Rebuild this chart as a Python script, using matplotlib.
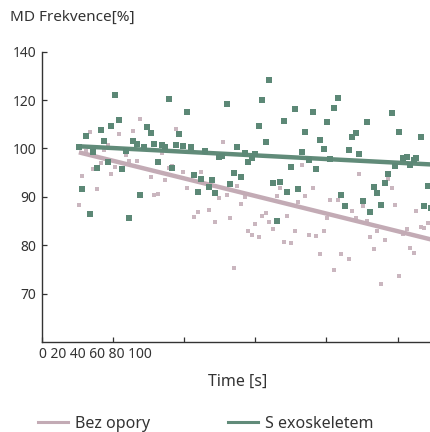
import numpy as np
import matplotlib
matplotlib.use("Agg")
import matplotlib.pyplot as plt
from matplotlib.lines import Line2D

plt.rcParams['font.family'] = ['Noto Sans', 'DejaVu Sans']

# ---------------- data ----------------
green_time = [10.5, 11.5, 12.5, 13.5, 14.5, 15.6, 16.6, 17.6, 18.6, 19.6,
              20.6, 21.7, 22.6, 23.7, 24.7, 25.7, 26.7, 27.7, 28.8, 29.6,
              30.7, 31.7, 32.7, 33.7, 34.8, 35.8, 36.7, 37.8, 38.7, 39.8,
              40.8, 41.9, 42.8, 43.9, 44.9, 45.8, 46.9, 47.8, 48.8, 49.9,
              50.6, 52.0, 52.9, 54.0, 54.9, 55.9, 57.1, 58.0, 59.0, 59.9,
              61.0, 62.0, 63.0, 63.9, 65.0, 66.0, 67.0, 68.1, 69.0, 70.0,
              71.2, 72.1, 73.1, 74.1, 75.0, 76.1, 77.1, 78.2, 79.2, 80.1,
              81.1, 82.2, 83.2, 84.2, 85.2, 86.2, 87.2, 88.2, 89.2, 90.2,
              91.3, 92.2, 93.3, 94.3, 95.2, 96.3, 97.3, 98.4, 99.3, 100.4,
              101.4, 102.5, 103.4, 104.5, 105.2, 106.4, 107.4, 108.4, 109.3]
green_md = [100.5, 91.6, 105.1, 86.5, 99.2, 96.0, 107.6, 103.1, 97.3, 109.2,
            122.3, 111.9, 95.8, 99.4, 85.6, 103.0, 101.7, 90.4, 100.4, 108.8,
            106.2, 101.7, 97.3, 101.4, 100.8, 120.4, 95.9, 101.5, 106.1, 101.1,
            115.2, 100.8, 94.6, 91.0, 93.6, 99.5, 92.0, 93.5, 90.8, 98.3,
            98.5, 118.2, 92.6, 95.0, 100.8, 94.1, 99.0, 97.1, 98.1, 98.8,
            109.2, 120.0, 102.7, 128.3, 92.8, 85.0, 93.0, 111.4, 91.1, 96.2,
            116.4, 91.7, 99.2, 106.9, 97.7, 115.2, 95.8, 103.4, 99.8, 110.9,
            97.9, 116.9, 120.7, 90.4, 88.1, 99.6, 104.9, 106.2, 98.8, 89.1,
            110.8, 86.9, 92.1, 90.7, 88.3, 92.8, 94.7, 114.5, 96.3, 106.9,
            98.1, 98.3, 96.5, 97.6, 98.1, 104.7, 88.2, 92.3, 87.6]

pink_time = [10.5, 11.5, 12.5, 13.5, 14.5, 15.6, 16.6, 17.6, 18.6, 19.6, 20.6, 21.7,
             23.7, 24.7, 25.7, 26.7, 27.7,
             30.7, 31.7, 32.7, 33.7, 34.8, 35.8, 36.7, 37.8,
             39.8, 40.8, 42.8, 43.9, 44.9, 46.9,
             48.8, 49.9, 50.9, 52.0, 52.9, 54.0, 54.9, 55.9, 57.1, 58.0, 59.0, 59.9,
             61.0, 62.0, 63.0, 63.9, 65.0, 66.0, 67.0, 68.1, 69.0, 70.0,
             71.2, 72.1, 73.1, 74.1, 75.0, 76.1, 77.1, 78.2, 79.2, 80.1,
             81.1, 82.2, 83.2, 84.2, 86.2, 87.2, 88.2, 89.2, 90.2,
             91.3, 92.2, 93.3, 94.3, 95.2, 96.3, 97.3, 98.4, 99.3, 100.4,
             101.4, 102.5, 103.4, 104.5, 105.2, 106.4, 107.4, 108.4]
pink_md = [88.3, 94.4, 99.4, 107.0, 95.8, 91.7, 96.9, 99.6, 101.4, 94.7, 96.1, 105.8,
           98.6, 97.4, 107.3, 97.5, 112.3,
           94.0, 90.3, 90.5, 99.0, 93.5, 96.0, 96.4, 107.9,
           95.1, 91.9, 85.8, 86.9, 95.2, 87.3,
           84.7, 89.8, 102.5, 90.4, 85.7, 75.2, 92.3, 88.6, 89.9, 82.9, 82.2, 84.3,
           81.7, 86.0, 86.7, 84.9, 83.3, 90.2, 91.8, 80.7, 86.1, 80.4,
           82.9, 88.9, 96.6, 90.1, 82.2, 91.8, 81.9, 78.2, 83.0, 85.7,
           89.3, 74.8, 89.4, 78.1, 77.1, 87.0, 85.7, 94.8, 88.1,
           85.1, 81.7, 79.3, 83.0, 72.0, 81.1, 93.7, 91.9, 88.4, 73.6,
           82.3, 83.4, 79.4, 78.4, 87.1, 83.7, 83.6, 84.5]

trend_time = [10.5, 109.3]
green_trend = [100.9, 96.7]
pink_trend = [99.2, 81.2]

y_ticks = [70, 80, 90, 100, 120, 140]
x_ticks = [0, 20, 40, 60, 80, 100, 120]
x_tick_text = "0 20 40 60 80 100"
labels = ["Bez opory", "S exoskeletem"]

GREEN = "#5c8876"
GREEN_LINE = "#618b79"
PINK = "#cab6bf"
PINK_LINE = "#c3abb5"
AX = "#333333"

# ---------------- figure ----------------
W, H = 430, 432
fig = plt.figure(figsize=(W / 100, H / 100), dpi=100)
left = 41.5 / W
bottom = 1 - 342 / H
height = (342 - 51.7) / H
width = 427.5 / W
ax = fig.add_axes([left, bottom, width, height])


def fwd(v):
    v = np.asarray(v, dtype=float)
    return np.where(v > 100, 100 + (v - 100) / 2.0, v)


def inv(d):
    d = np.asarray(d, dtype=float)
    return np.where(d > 100, 100 + (d - 100) * 2.0, d)


ax.set_yscale('function', functions=(fwd, inv))

ax.scatter(pink_time, pink_md, marker='s', s=9, color=PINK, linewidths=0, zorder=2)
ax.plot(trend_time, pink_trend, color=PINK_LINE, lw=3.2, solid_capstyle='butt', zorder=3)
ax.plot(trend_time, green_trend, color=GREEN_LINE, lw=3.2, solid_capstyle='butt', zorder=4)
ax.scatter(green_time, green_md, marker='s', s=20, color=GREEN, linewidths=0, zorder=5)

ax.set_xlim(0, 120)
ax.set_ylim(60, 140)
ax.set_yticks(y_ticks)
ax.set_yticklabels([str(t) for t in y_ticks])
ax.yaxis.set_minor_locator(matplotlib.ticker.NullLocator())
ax.set_xticks(x_ticks)
ax.set_xticklabels([])

for s in ['top', 'right']:
    ax.spines[s].set_visible(False)
for s in ['left', 'bottom']:
    ax.spines[s].set_color(AX)
    ax.spines[s].set_linewidth(1.0)
ax.tick_params(axis='both', direction='in', length=3.5, width=0.9, color=AX,
               labelsize=10, labelcolor=AX, pad=4)

# crammed x tick labels as in the reference
fig.text(39 / W, 1 - 355 / H, x_tick_text, ha='left', va='center', fontsize=10, color=AX)

fig.text(10 / W, 1 - 17 / H, "MD Frekvence[%]", ha='left', va='center', fontsize=11, color=AX)
fig.text(238 / W, 1 - 382 / H, "Time [s]", ha='center', va='center', fontsize=11.5, color=AX)

handles = [Line2D([0], [0], color=PINK_LINE, lw=2.2),
           Line2D([0], [0], color=GREEN_LINE, lw=2.2)]
fig.legend(handles, labels, loc='center left', bbox_to_anchor=(38 / W, 1 - 424 / H),
           ncol=2, frameon=False, fontsize=11.5, handlelength=1.9, handletextpad=0.4,
           columnspacing=4.9, borderaxespad=0, borderpad=0, labelcolor=AX)

fig.savefig("out.png", dpi=100)
